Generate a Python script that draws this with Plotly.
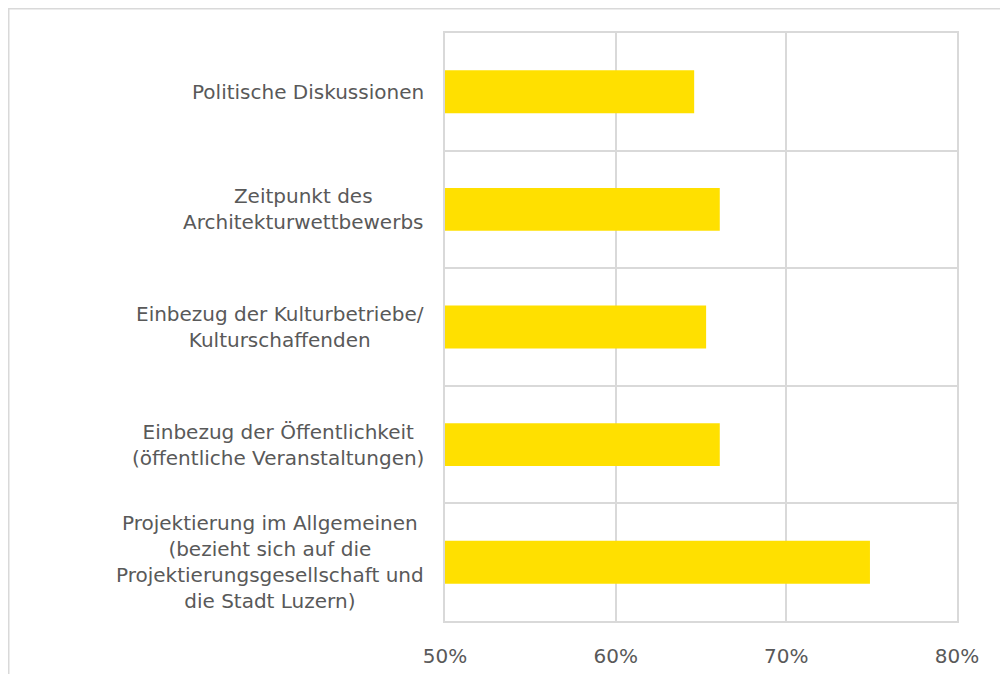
import plotly.graph_objects as go

categories = [
    "Politische Diskussionen",
    "Zeitpunkt des<br>Architekturwettbewerbs",
    "Einbezug der Kulturbetriebe/<br>Kulturschaffenden",
    "Einbezug der Öffentlichkeit<br>(öffentliche Veranstaltungen)",
    "Projektierung im Allgemeinen<br>(bezieht sich auf die<br>Projektierungsgesellschaft und<br>die Stadt Luzern)",
]
values = [0.646, 0.661, 0.653, 0.661, 0.749]
tick_vals = [0.5, 0.6, 0.7, 0.8]
tick_text = ["50%", "60%", "70%", "80%"]

FONT = "DejaVu Sans"
TXT = "#595959"
GRID = "#d9d9d9"

ML, MR, MT, MB = 437, 59, 25, 61
PW = 1008 - ML - MR
PH = 674 - MT - MB

fig = go.Figure(
    go.Bar(
        x=values,
        y=categories,
        orientation="h",
        marker=dict(color="#FFE000", line=dict(width=0)),
        hoverinfo="x+y",
    )
)

annotations = [
    dict(
        x=0, xref="paper", xanchor="right", xshift=-19,
        y=c, yref="y", yanchor="middle",
        text=c, showarrow=False, align="center",
        font=dict(family=FONT, size=20, color=TXT),
    )
    for c in categories
]

fig.update_layout(
    width=1008,
    height=674,
    margin=dict(l=ML, r=MR, t=MT, b=MB),
    paper_bgcolor="white",
    plot_bgcolor="white",
    bargap=0.635,
    showlegend=False,
    annotations=annotations,
    shapes=[
        dict(type="rect", xref="paper", yref="paper",
             x0=(0.75 - ML) / PW, x1=1.3,
             y0=-0.3, y1=(PH + MT - 0.75) / PH,
             line=dict(color=GRID, width=1.5), layer="below"),
    ],
    font=dict(family=FONT, color=TXT),
)

fig.update_xaxes(
    range=[0.5, 0.8],
    tickvals=tick_vals,
    ticktext=tick_text,
    showgrid=True,
    gridcolor=GRID,
    gridwidth=1.5,
    zeroline=False,
    showline=True,
    mirror=True,
    linecolor=GRID,
    linewidth=1.5,
    ticks="",
    ticklabelstandoff=16,
    tickfont=dict(family=FONT, size=20, color=TXT),
)

fig.update_yaxes(
    categoryorder="array",
    categoryarray=categories,
    autorange="reversed",
    tickson="boundaries",
    showgrid=True,
    gridcolor=GRID,
    gridwidth=1.5,
    showticklabels=False,
    ticks="",
    zeroline=False,
    showline=True,
    mirror=True,
    linecolor=GRID,
    linewidth=1.5,
)

fig.write_html("out.html")
